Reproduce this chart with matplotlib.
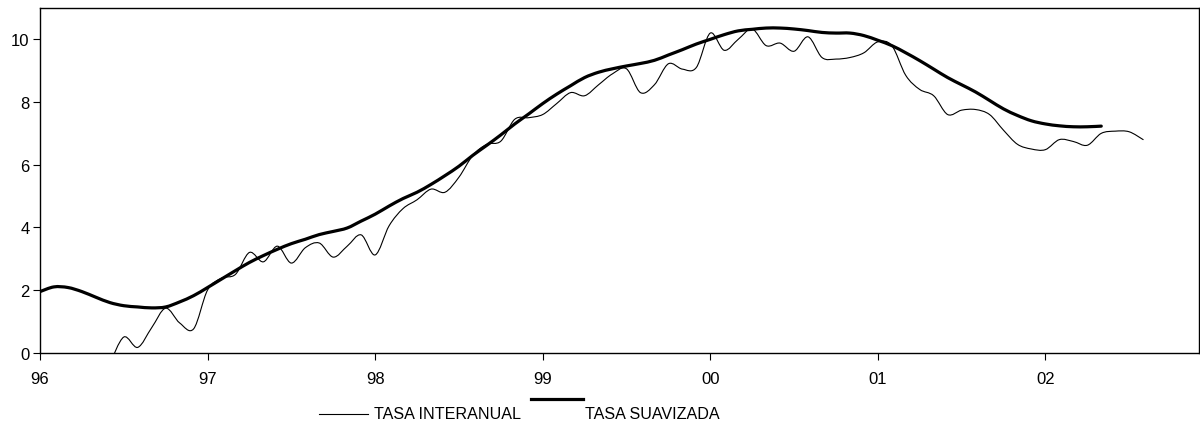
import matplotlib
matplotlib.use("Agg")
from matplotlib import pyplot as plt
from matplotlib.path import Path
from matplotlib.patches import PathPatch
from matplotlib.lines import Line2D

plt.rcParams['font.family'] = ['Liberation Sans', 'DejaVu Sans']

# meses desde enero 1996
interanual_mes = list(range(5, 80))
interanual = [-0.35, 0.5, 0.17, 0.8, 1.42, 0.95, 0.76, 2.0, 2.38, 2.5,
              3.2, 2.9, 3.4, 2.86, 3.35, 3.5, 3.05, 3.4, 3.76, 3.12,
              4.05, 4.6, 4.88, 5.22, 5.12, 5.6, 6.3, 6.65, 6.75, 7.45,
              7.5, 7.6, 7.95, 8.3, 8.2, 8.55, 8.9, 9.06, 8.3, 8.55,
              9.22, 9.05, 9.1, 10.2, 9.65, 10.0, 10.33, 9.8, 9.88, 9.62,
              10.08, 9.42, 9.37, 9.42, 9.57, 9.92, 9.8, 8.85, 8.4, 8.2,
              7.6, 7.74, 7.76, 7.6, 7.1, 6.65, 6.5, 6.48, 6.8, 6.74,
              6.62, 7.0, 7.07, 7.05, 6.8]

suavizada_mes = list(range(0, 77))
suavizada = [1.95, 2.1, 2.08, 1.95, 1.77, 1.6, 1.5, 1.46, 1.43, 1.46,
             1.62, 1.82, 2.08, 2.35, 2.62, 2.88, 3.1, 3.3, 3.48, 3.62,
             3.77, 3.87, 3.98, 4.2, 4.42, 4.68, 4.92, 5.12, 5.37, 5.65,
             5.95, 6.3, 6.62, 6.95, 7.3, 7.62, 7.95, 8.25, 8.52, 8.78,
             8.95, 9.06, 9.15, 9.23, 9.33, 9.5, 9.67, 9.85, 10.0, 10.15,
             10.27, 10.32, 10.36, 10.36, 10.33, 10.28, 10.22, 10.2, 10.2, 10.12,
             9.97, 9.8, 9.57, 9.32, 9.05, 8.78, 8.55, 8.32, 8.05, 7.78,
             7.57, 7.4, 7.3, 7.24, 7.21, 7.21, 7.23]

anios = ["96", "97", "98", "99", "00", "01", "02"]


def curva_suave(ax, xs, ys, lw):
    # linea suavizada tipo Excel (Catmull-Rom -> Bezier)
    n = len(xs)
    verts = [(xs[0], ys[0])]
    codes = [Path.MOVETO]
    for i in range(n - 1):
        i0 = max(i - 1, 0)
        i3 = min(i + 2, n - 1)
        c1 = (xs[i] + (xs[i + 1] - xs[i0]) / 6, ys[i] + (ys[i + 1] - ys[i0]) / 6)
        c2 = (xs[i + 1] - (xs[i3] - xs[i]) / 6, ys[i + 1] - (ys[i3] - ys[i]) / 6)
        verts += [c1, c2, (xs[i + 1], ys[i + 1])]
        codes += [Path.CURVE4] * 3
    ax.add_patch(PathPatch(Path(verts, codes), fill=False, edgecolor="black",
                           lw=lw, capstyle="round", joinstyle="round"))


fig = plt.figure(figsize=(12, 4.27), dpi=100)
ax = fig.add_axes([40 / 1200, 1 - 353.7 / 427, 1159 / 1200, (353.7 - 9) / 427])

curva_suave(ax, interanual_mes, interanual, 0.8)
curva_suave(ax, suavizada_mes, suavizada, 2.3)

ax.set_xlim(0, 83)
ax.set_ylim(0, 11)
ax.set_xticks(range(0, 84, 12))
ax.set_xticklabels(anios)
ax.set_yticks(range(0, 11, 2))
ax.tick_params(axis="x", direction="out", length=5, width=0.8, pad=8, labelsize=12)
ax.tick_params(axis="y", direction="out", length=5, width=0.8, pad=2.5, labelsize=12)
for s in ax.spines.values():
    s.set_linewidth(1.0)

# leyenda
fig.add_artist(Line2D([319 / 1200, 368 / 1200], [1 - 415 / 427] * 2, color="black", lw=0.8))
fig.text(374 / 1200, 1 - 415 / 427, "TASA INTERANUAL", fontsize=11.6, va="center")
fig.add_artist(Line2D([531 / 1200, 583 / 1200], [1 - 399.5 / 427] * 2, color="black", lw=2.3))
fig.text(585 / 1200, 1 - 415 / 427, "TASA SUAVIZADA", fontsize=11.6, va="center")

plt.savefig("out.png")
